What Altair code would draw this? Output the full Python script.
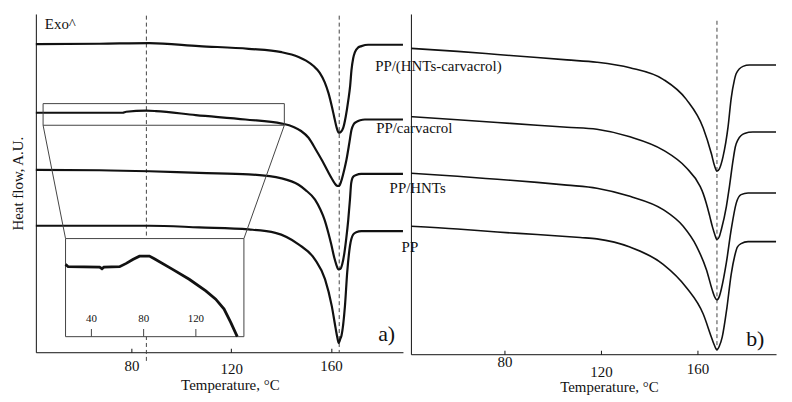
import altair as alt
import pandas as pd

FONT = "Liberation Serif"
INK = "#111111"
LINE_INK = "#444444"

SAMPLES = ["PP/(HNTs-carvacrol)", "PP/carvacrol", "PP/HNTs", "PP"]
TICKS = [80, 120, 160]

# ---------------- panel a) : temperature (deg C) / heat flow (A.U.) ----------------
A1_T = [41.7, 67.2, 87.2, 107.1, 127.0, 140.2, 147.0, 150.0, 153.0, 155.5, 157.5, 159.0, 160.3, 161.3,
        162.2, 163.1, 163.9, 164.9, 165.9, 166.9, 167.7, 168.2, 168.9, 169.6, 170.9, 172.2, 174.9, 188.85]
A1_V = [91.1, 91.2, 91.4, 90.5, 89.7, 88.7, 87.3, 86.2, 84.6, 82.6, 79.8, 76.6, 72.8, 69.5,
        66.6, 64.9, 65.1, 66.3, 69.6, 74.3, 78.9, 83.3, 86.9, 88.7, 90.1, 90.5, 90.9, 90.9]

A2_T = [41.7, 76.5, 77.9, 85.9, 89.8, 105.8, 125.7, 140.3, 145.0, 148.0, 151.0, 154.0, 156.5, 158.5,
        160.2, 161.5, 162.5, 163.3, 164.2, 165.3, 166.2, 167.4, 168.2, 169.1, 170.2, 171.7, 173.6, 188.85]
A2_V = [70.8, 70.8, 71.1, 71.4, 71.3, 70.1, 68.8, 67.6, 66.6, 65.4, 63.4, 59.8, 56.6, 53.8,
        51.5, 49.9, 49.2, 49.2, 50.8, 53.9, 56.9, 62.1, 65.7, 67.4, 68.1, 68.6, 68.8, 68.8]

A3_T = [41.7, 67.2, 87.2, 107.1, 127.0, 140.2, 147.0, 149.7, 153.6, 155.8, 157.4, 158.9, 160.1, 161.3,
        162.1, 162.9, 163.7, 164.5, 165.3, 166.1, 166.9, 167.6, 168.1, 168.9, 170.1, 172.1, 188.85]
A3_V = [53.9, 53.8, 53.5, 53.0, 52.6, 51.4, 49.5, 48.0, 45.1, 42.1, 39.2, 35.4, 31.9, 28.0,
        26.0, 24.5, 24.6, 26.0, 29.0, 33.5, 39.0, 45.1, 50.0, 51.9, 52.4, 52.7, 52.7]

A4_T = [41.7, 87.2, 107.1, 127.0, 137.7, 147.0, 153.6, 157.6, 160.3, 161.9, 162.5, 163.1, 163.7, 164.2,
        165.6, 166.5, 167.6, 168.9, 170.1, 172.2, 188.85]
A4_V = [37.4, 37.4, 36.9, 36.3, 35.3, 31.9, 27.4, 21.6, 13.7, 6.9, 4.5, 2.7, 3.9, 4.9,
        13.7, 23.6, 31.4, 34.8, 35.5, 35.8, 35.8]

# inset (zoom of PP/carvacrol), its own temperature axis
IN_T = [20.2, 22.2, 46.3, 48.1, 49.6, 61.6, 66.7, 71.7, 76.8, 84.4, 88.2, 102.2, 114.9, 127.6,
        135.2, 141.6, 146.7, 151.7]
IN_V = [73.7, 71.3, 70.9, 69.3, 70.9, 71.3, 74.7, 78.7, 82.1, 82.1, 79.4, 68.6, 58.5, 46.6,
        38.2, 28.1, 14.6, 0.0]
IN_TICKS = [40, 80, 120]

# ---------------- panel b) ----------------
B1_T = [41.3, 60.5, 77.0, 93.5, 105.9, 118.3, 132.0, 145.8, 155.4, 162.4, 165.8, 167.0, 168.1, 169.1,
        170.6, 172.7, 174.0, 175.3, 176.1, 178.9, 181.6, 192.6]
B1_V = [89.9, 89.0, 88.1, 87.2, 86.5, 85.8, 84.2, 80.8, 74.9, 66.5, 58.9, 55.6, 53.8, 54.5,
        58.0, 66.8, 75.2, 80.5, 82.5, 84.6, 85.0, 85.0]

B2_T = [41.3, 60.5, 77.0, 93.5, 105.9, 118.3, 132.0, 145.8, 155.4, 161.0, 162.4, 163.7, 165.1, 166.2,
        167.2, 168.1, 169.1, 169.9, 172.0, 173.2, 174.8, 175.7, 176.8, 179.5, 183.0, 192.6]
B2_V = [69.8, 68.9, 68.1, 67.3, 66.7, 66.1, 63.9, 60.0, 54.8, 49.5, 47.2, 44.3, 40.6, 37.5,
        35.2, 33.7, 34.6, 36.6, 43.4, 48.9, 57.1, 60.9, 63.0, 64.9, 65.3, 65.3]

B3_T = [41.3, 60.5, 77.0, 93.5, 105.9, 118.3, 132.0, 145.8, 154.1, 159.6, 163.7, 166.5, 167.2, 168.1,
        169.1, 169.9, 172.0, 174.0, 176.1, 178.1, 181.0, 192.6]
B3_V = [53.2, 52.3, 51.4, 50.5, 49.7, 48.8, 46.4, 42.5, 37.6, 31.8, 24.9, 18.1, 16.8, 16.0,
        17.0, 19.1, 26.9, 36.6, 44.4, 46.9, 47.4, 47.4]

B4_T = [41.3, 60.5, 77.0, 93.5, 111.4, 118.3, 132.0, 145.8, 155.4, 162.4, 165.8, 167.0, 168.1, 169.1,
        170.3, 172.2, 174.0, 175.5, 176.5, 178.1, 181.0, 192.6]
B4_V = [37.6, 36.8, 35.9, 35.2, 34.3, 33.9, 31.5, 26.4, 19.6, 11.8, 5.0, 2.7, 1.3, 2.4,
        5.1, 13.5, 23.5, 29.0, 31.4, 32.5, 33.1, 33.1]

# reference (dashed) temperatures
A_DASH_T = [86.0, 163.3]
A_DASH_TOP = [99.5, 99.5]
A_DASH_BOT = [-2.9, 0.0]
B_DASH_T = [168.1]
B_DASH_TOP = [98.0]
B_DASH_BOT = [1.0]

# annotation anchors (data units of panel a)
LABEL_T = [177.7, 178.1, 183.5, 188.3]
LABEL_V = [84.5, 66.4, 48.6, 31.0]
ZOOM_BOX = {"t0": 44.6, "t1": 141.3, "v0": 67.1, "v1": 73.5}
INSET_BOX = {"t0": 53.6, "t1": 125.1, "v0": 4.6, "v1": 33.6}
INSET_T_DOMAIN = [20.2, 156.8]

XA_DOMAIN = [41.7, 188.85]
XB_DOMAIN = [41.2, 192.6]
W_A, H_A = 369, 340
W_B, H_B = 367, 342


def long_df(ts, vs):
    rows = []
    for name, t, v in zip(SAMPLES, ts, vs):
        for i, (a, b) in enumerate(zip(t, v)):
            rows.append({"sample": name, "T": a, "V": b, "i": i})
    return pd.DataFrame(rows)


df_a = long_df([A1_T, A2_T, A3_T, A4_T], [A1_V, A2_V, A3_V, A4_V])
df_b = long_df([B1_T, B2_T, B3_T, B4_T], [B1_V, B2_V, B3_V, B4_V])

xa = alt.Scale(domain=XA_DOMAIN, nice=False, zero=False)
ya = alt.Scale(domain=[0, 100], nice=False, zero=False)
xb = alt.Scale(domain=XB_DOMAIN, nice=False, zero=False)
yb = alt.Scale(domain=[0, 100], nice=False, zero=False)

ax_xa = alt.Axis(values=TICKS, title="Temperature, °C", grid=False, titleX=195, titlePadding=1,
                 tickSize=alt.ExprRef(expr="-4"),
                 labelPadding={"condition": {"test": "datum.value == 120", "value": 13}, "value": 10})
ax_ya = alt.Axis(title="Heat flow, A.U.", labels=False, ticks=False, grid=False, titlePadding=10)
ax_xb = alt.Axis(values=TICKS, title="Temperature, °C", grid=False, titleX=199, titlePadding=0,
                 tickSize=alt.ExprRef(expr="-4"),
                 labelPadding={"condition": [{"test": "datum.value == 80", "value": 4},
                                             {"test": "datum.value == 120", "value": 14}], "value": 11})
ax_yb = alt.Axis(title=None, labels=False, ticks=False, grid=False)


def XA(f):
    return alt.X(f, type="quantitative", scale=xa, axis=ax_xa)


def YA(f):
    return alt.Y(f, type="quantitative", scale=ya, axis=ax_ya)


def XB(f):
    return alt.X(f, type="quantitative", scale=xb, axis=ax_xb)


def YB(f):
    return alt.Y(f, type="quantitative", scale=yb, axis=ax_yb)


# ---- panel a main layers ----
dash_a = alt.Chart(pd.DataFrame({"T": A_DASH_T, "top": A_DASH_TOP, "bot": A_DASH_BOT})).mark_rule(
    strokeDash=[4, 3], color=LINE_INK, strokeWidth=1).encode(x=XA("T"), y=YA("top"), y2="bot")

curves_a = alt.Chart(df_a).mark_line(color=INK, strokeWidth=2.2, interpolate="monotone").encode(
    x=XA("T"), y=YA("V"), detail="sample:N", order="i:Q")

zoom_box = alt.Chart(pd.DataFrame([ZOOM_BOX])).mark_rect(
    fillOpacity=0, stroke=LINE_INK, strokeWidth=1).encode(x=XA("t0"), x2="t1", y=YA("v0"), y2="v1")

connectors = alt.Chart(pd.DataFrame({
    "t0": [ZOOM_BOX["t0"], ZOOM_BOX["t1"]], "v0": [ZOOM_BOX["v0"], ZOOM_BOX["v0"]],
    "t1": [INSET_BOX["t0"], INSET_BOX["t1"]], "v1": [INSET_BOX["v1"], INSET_BOX["v1"]]})).mark_rule(
    color=LINE_INK, strokeWidth=1).encode(x=XA("t0"), x2="t1", y=YA("v0"), y2="v1")

labels_a = alt.Chart(pd.DataFrame({"T": LABEL_T, "V": LABEL_V, "txt": SAMPLES})).mark_text(
    align="left", baseline="middle", font=FONT, fontSize=15, color=INK).encode(
    x=XA("T"), y=YA("V"), text="txt:N")

exo = alt.Chart(pd.DataFrame({"T": [45.3], "V": [97.1], "txt": ["Exo^"]})).mark_text(
    align="left", baseline="middle", font=FONT, fontSize=15, color=INK).encode(
    x=XA("T"), y=YA("V"), text="txt:N")

tag_a = alt.Chart(pd.DataFrame({"T": [178.9], "V": [5.4], "txt": ["a)"]})).mark_text(
    align="left", baseline="middle", font=FONT, fontSize=22, color=INK).encode(
    x=XA("T"), y=YA("V"), text="txt:N")

main_a = alt.layer(dash_a, curves_a, zoom_box, connectors, labels_a, exo, tag_a)

# ---- inset (own scales, placed on the inset frame) ----
span = XA_DOMAIN[1] - XA_DOMAIN[0]
rx0 = (INSET_BOX["t0"] - XA_DOMAIN[0]) / span * W_A
rx1 = (INSET_BOX["t1"] - XA_DOMAIN[0]) / span * W_A
ry0 = (100 - INSET_BOX["v0"]) / 100 * H_A
ry1 = (100 - INSET_BOX["v1"]) / 100 * H_A
ix = alt.Scale(domain=INSET_T_DOMAIN, range=[rx0, rx1], nice=False, zero=False)
iy = alt.Scale(domain=[0, 100], range=[ry0, ry1], nice=False, zero=False)


def XI(f):
    return alt.X(f, type="quantitative", scale=ix, axis=None)


def YI(f):
    return alt.Y(f, type="quantitative", scale=iy, axis=None)


frame = alt.Chart(pd.DataFrame({"x": [INSET_T_DOMAIN[0]], "x2": [INSET_T_DOMAIN[1]],
                                "y": [0], "y2": [100]})).mark_rect(
    fill="white", stroke=LINE_INK, strokeWidth=1).encode(x=XI("x"), x2="x2", y=YI("y"), y2="y2")

inset_line = alt.Chart(pd.DataFrame({"T": IN_T, "V": IN_V, "i": list(range(len(IN_T)))})).mark_line(
    color=INK, strokeWidth=2.8).encode(x=XI("T"), y=YI("V"), order="i:Q")

inset_ticks = alt.Chart(pd.DataFrame({"T": IN_TICKS, "a": [0] * 3, "b": [7.8] * 3})).mark_rule(
    color=LINE_INK, strokeWidth=1).encode(x=XI("T"), y=YI("a"), y2="b")

inset_labels = alt.Chart(pd.DataFrame({"T": IN_TICKS, "V": [17.9] * 3,
                                       "txt": [str(t) for t in IN_TICKS]})).mark_text(
    font=FONT, fontSize=11, color=INK, baseline="middle").encode(x=XI("T"), y=YI("V"), text="txt:N")

inset = alt.layer(frame, inset_line, inset_ticks, inset_labels)

panel_a = alt.layer(main_a, inset).resolve_scale(x="independent", y="independent").properties(
    width=W_A, height=H_A)

# ---- panel b ----
dash_b = alt.Chart(pd.DataFrame({"T": B_DASH_T, "top": B_DASH_TOP, "bot": B_DASH_BOT})).mark_rule(
    strokeDash=[4, 3], color=LINE_INK, strokeWidth=1).encode(x=XB("T"), y=YB("top"), y2="bot")

curves_b = alt.Chart(df_b).mark_line(color=INK, strokeWidth=1.6, interpolate="monotone").encode(
    x=XB("T"), y=YB("V"), detail="sample:N", order="i:Q")

tag_b = alt.Chart(pd.DataFrame({"T": [180.2], "V": [4.6], "txt": ["b)"]})).mark_text(
    align="left", baseline="middle", font=FONT, fontSize=22, color=INK).encode(
    x=XB("T"), y=YB("V"), text="txt:N")

panel_b = alt.layer(dash_b, curves_b, tag_b).properties(width=W_B, height=H_B)

chart = alt.hconcat(panel_a, panel_b, spacing=8, bounds="flush").properties(
    padding={"left": 3, "top": 5, "right": 4, "bottom": 2},
    background="white",
).configure_view(stroke=None).configure_axis(
    labelFont=FONT, titleFont=FONT, labelFontSize=15, titleFontSize=15, titleFontWeight="normal",
    labelColor=INK, titleColor=INK, domainColor=INK, tickColor=INK, domainWidth=1, tickWidth=1,
)

chart.save("out.html", embed_options={"renderer": "svg", "actions": False})
